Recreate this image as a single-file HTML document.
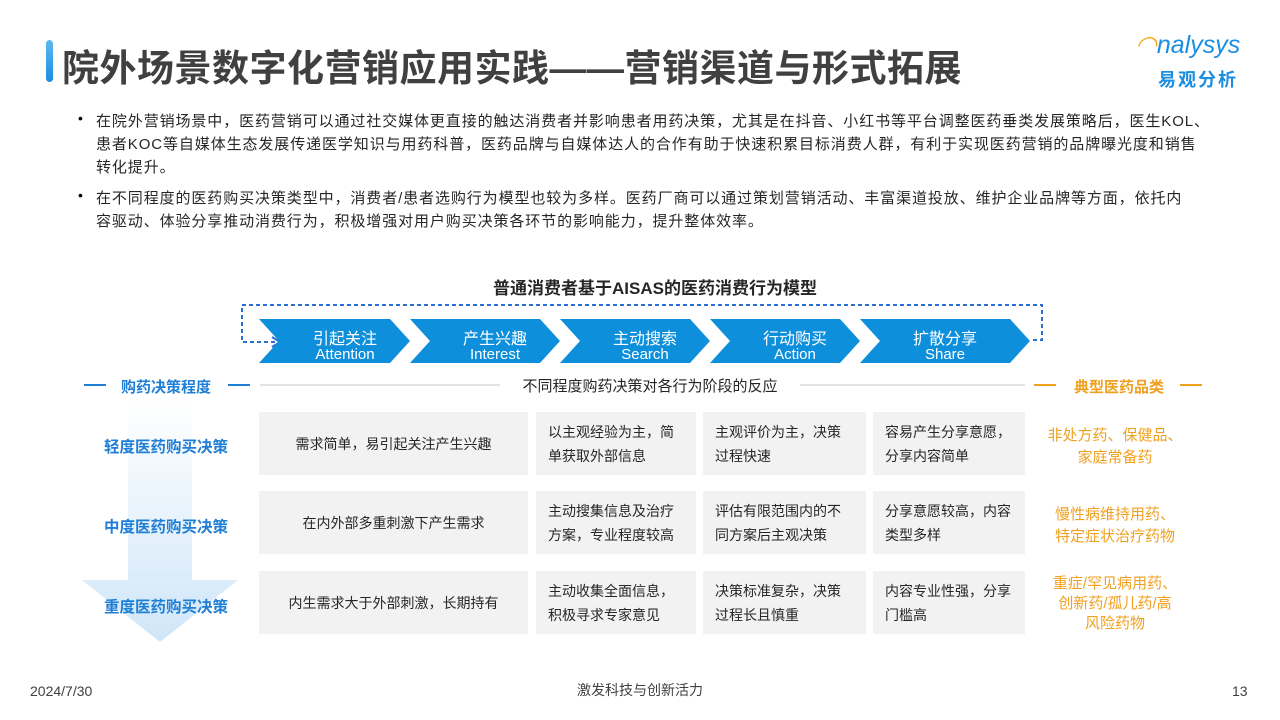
<!DOCTYPE html><html><head><meta charset="utf-8"><style>
body{margin:0;width:1280px;height:720px;background:#fff;position:relative;overflow:hidden;font-family:"Liberation Sans","Noto Sans CJK SC",sans-serif;}
.a{position:absolute;}
.t{font-size:37px;font-weight:bold;color:#404040;left:62px;top:38px;letter-spacing:0.5px;white-space:nowrap}
.b{font-size:15px;color:#262626;line-height:23px;left:96px;white-space:nowrap;letter-spacing:0.9px}
.cell{position:absolute;background:#f2f2f2;font-size:14px;color:#262626;line-height:24px;display:flex;align-items:center;justify-content:center;text-align:left;box-sizing:border-box;padding:0 12px}
.rl{position:absolute;left:80px;width:172px;text-align:center;font-size:15.5px;font-weight:bold;color:#1f7fd6}
.rr{position:absolute;left:1030px;width:170px;text-align:center;font-size:15px;color:#f0a020;line-height:20px}
</style></head><body>
<div class="a" style="left:46px;top:40px;width:7px;height:42px;border-radius:4px;background:linear-gradient(#5fb8f0,#1a8ee0)"></div>
<div class="a t">院外场景数字化营销应用实践——营销渠道与形式拓展</div>
<div class="a" style="left:1135px;top:30px;font-size:25px;color:#1a8ee0;font-style:italic;"><span style="color:#f5a623">◠</span>nalysys</div>
<div class="a" style="left:1158px;top:66px;font-size:18px;font-weight:bold;color:#1a8ee0;letter-spacing:2px">易观分析</div>
<div class="a b" style="top:110px">在院外营销场景中，医药营销可以通过社交媒体更直接的触达消费者并影响患者用药决策，尤其是在抖音、小红书等平台调整医药垂类发展策略后，医生KOL、<br>患者KOC等自媒体生态发展传递医学知识与用药科普，医药品牌与自媒体达人的合作有助于快速积累目标消费人群，有利于实现医药营销的品牌曝光度和销售<br>转化提升。</div>
<div class="a b" style="top:187px">在不同程度的医药购买决策类型中，消费者/患者选购行为模型也较为多样。医药厂商可以通过策划营销活动、丰富渠道投放、维护企业品牌等方面，依托内<br>容驱动、体验分享推动消费行为，积极增强对用户购买决策各环节的影响能力，提升整体效率。</div>
<div class="a" style="left:78px;top:110px;font-size:14px">•</div>
<div class="a" style="left:78px;top:187px;font-size:14px">•</div>
<div class="a" style="left:0;width:1310px;top:274px;text-align:center;font-size:17px;font-weight:bold;color:#262626">普通消费者基于AISAS的医药消费行为模型</div>
<svg class="a" style="left:0;top:0" width="1280" height="720">
<path d="M282,342 H242 V305 H1042 V340 H1032" fill="none" stroke="#2a6fd0" stroke-width="2" stroke-dasharray="4,3"/>
<path d="M272,337 l8,5 l-8,5" fill="none" stroke="#2a6fd0" stroke-width="2"/>
<g fill="#0e8fdc">
<polygon points="259,319 390,319 410,341 390,363 259,363 279,341"/>
<polygon points="410,319 540,319 560,341 540,363 410,363 430,341"/>
<polygon points="560,319 690,319 710,341 690,363 560,363 580,341"/>
<polygon points="710,319 840,319 860,341 840,363 710,363 730,341"/>
<polygon points="860,319 1010,319 1030,341 1010,363 860,363 880,341"/>
</g>
<g fill="#fff" font-size="15" text-anchor="middle">
<text x="345" y="344" font-size="16">引起关注</text><text x="345" y="359">Attention</text>
<text x="495" y="344" font-size="16">产生兴趣</text><text x="495" y="359">Interest</text>
<text x="645" y="344" font-size="16">主动搜索</text><text x="645" y="359">Search</text>
<text x="795" y="344" font-size="16">行动购买</text><text x="795" y="359">Action</text>
<text x="945" y="344" font-size="16">扩散分享</text><text x="945" y="359">Share</text>
</g>
<line x1="84" y1="385" x2="106" y2="385" stroke="#1f7fd6" stroke-width="2"/>
<line x1="228" y1="385" x2="250" y2="385" stroke="#1f7fd6" stroke-width="2"/>
<line x1="260" y1="385" x2="500" y2="385" stroke="#e3e3e3" stroke-width="2"/>
<line x1="800" y1="385" x2="1025" y2="385" stroke="#e3e3e3" stroke-width="2"/>
<line x1="1034" y1="385" x2="1056" y2="385" stroke="#f0a020" stroke-width="2"/>
<line x1="1180" y1="385" x2="1202" y2="385" stroke="#f0a020" stroke-width="2"/>
<defs><linearGradient id="g" x1="0" y1="0" x2="0" y2="1"><stop offset="0" stop-color="#fff"/><stop offset="1" stop-color="#cfe6f8"/></linearGradient></defs>
<polygon points="128,400 192,400 192,580 238,580 160,642 82,580 128,580" fill="url(#g)"/>
</svg>
<div class="rl" style="top:376px;font-size:15px">购药决策程度</div>
<div class="a" style="left:500px;width:300px;top:375px;text-align:center;font-size:15px;color:#262626">不同程度购药决策对各行为阶段的反应</div>
<div class="a" style="left:1030px;width:178px;top:376px;text-align:center;font-size:15px;font-weight:bold;color:#f0a020">典型医药品类</div>
<div class="rl" style="top:435px">轻度医药购买决策</div>
<div class="rl" style="top:515px">中度医药购买决策</div>
<div class="rl" style="top:595px">重度医药购买决策</div>
<div class="cell" style="left:259px;top:412px;width:269px;height:63px">需求简单，易引起关注产生兴趣</div>
<div class="cell" style="left:536px;top:412px;width:160px;height:63px">以主观经验为主，简单获取外部信息</div>
<div class="cell" style="left:703px;top:412px;width:163px;height:63px">主观评价为主，决策过程快速</div>
<div class="cell" style="left:873px;top:412px;width:152px;height:63px">容易产生分享意愿，分享内容简单</div>
<div class="cell" style="left:259px;top:491px;width:269px;height:63px">在内外部多重刺激下产生需求</div>
<div class="cell" style="left:536px;top:491px;width:160px;height:63px">主动搜集信息及治疗方案，专业程度较高</div>
<div class="cell" style="left:703px;top:491px;width:163px;height:63px">评估有限范围内的不同方案后主观决策</div>
<div class="cell" style="left:873px;top:491px;width:152px;height:63px">分享意愿较高，内容类型多样</div>
<div class="cell" style="left:259px;top:571px;width:269px;height:63px">内生需求大于外部刺激，长期持有</div>
<div class="cell" style="left:536px;top:571px;width:160px;height:63px">主动收集全面信息，积极寻求专家意见</div>
<div class="cell" style="left:703px;top:571px;width:163px;height:63px">决策标准复杂，决策过程长且慎重</div>
<div class="cell" style="left:873px;top:571px;width:152px;height:63px">内容专业性强，分享门槛高</div>
<div class="rr" style="top:425px;line-height:22px">非处方药、保健品、<br>家庭常备药</div>
<div class="rr" style="top:504px;line-height:22px">慢性病维持用药、<br>特定症状治疗药物</div>
<div class="rr" style="top:574px">重症/罕见病用药、<br>创新药/孤儿药/高<br>风险药物</div>
<div class="a" style="left:30px;top:683px;font-size:14px;color:#404040">2024/7/30</div>
<div class="a" style="left:0;width:1280px;top:680px;text-align:center;font-size:14px;color:#404040">激发科技与创新活力</div>
<div class="a" style="left:1232px;top:683px;font-size:14px;color:#404040">13</div>
</body></html>
